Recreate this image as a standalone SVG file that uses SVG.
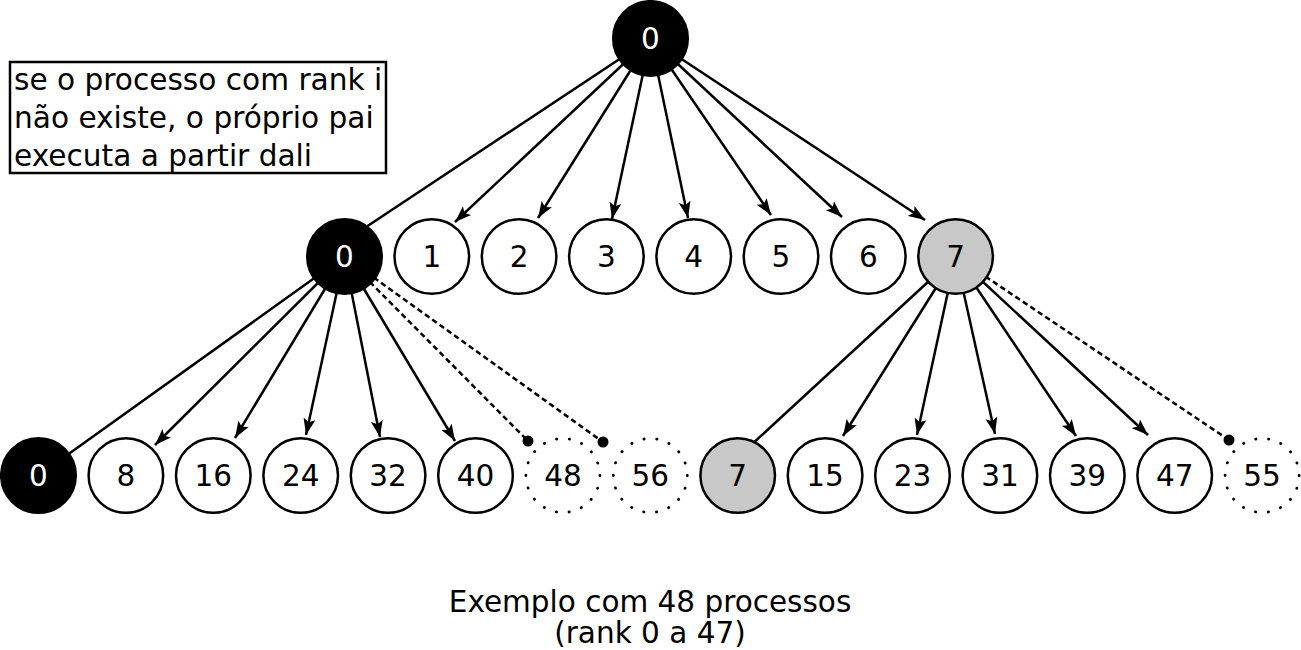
<svg xmlns="http://www.w3.org/2000/svg" width="1301" height="650" viewBox="0 0 1301 650">
<style>
.e{stroke:#000;stroke-width:2.5;fill:none}
.a{marker-end:url(#arr)}
.d{stroke-dasharray:5.5 3.5}
.n{stroke:#000;stroke-width:2.5;fill:#fff}
.blk{fill:#000}
.gry{fill:#c8c8c8}
.dot{stroke:#000;stroke-width:2.8;fill:#fff;stroke-dasharray:0.02 0.98;stroke-linecap:round}
text{font-family:"DejaVu Sans","Liberation Sans",sans-serif;font-size:29.5px;fill:#000}
.l{text-anchor:middle}
.w{fill:#fff}
.nt{font-size:29.6px}
</style>
<defs>
<marker id="arr" markerUnits="userSpaceOnUse" markerWidth="18" markerHeight="14" viewBox="0 0 18 14" refX="16.5" refY="7" orient="auto">
<path d="M0,1 L16.5,7 L0,13 L3.5,7 z" fill="#000"/>
</marker>
</defs>
<g id="connectors">
<line class="e" x1="650.5" y1="38.5" x2="351" y2="237"/>
<line class="e a" x1="650.5" y1="38.5" x2="455" y2="222"/>
<line class="e a" x1="650.5" y1="38.5" x2="538" y2="218"/>
<line class="e a" x1="650.5" y1="38.5" x2="612" y2="219"/>
<line class="e a" x1="650.5" y1="38.5" x2="688" y2="218"/>
<line class="e a" x1="650.5" y1="38.5" x2="771" y2="215"/>
<line class="e a" x1="650.5" y1="38.5" x2="842" y2="217"/>
<line class="e a" x1="650.5" y1="38.5" x2="925" y2="220"/>
<line class="e" x1="344.5" y1="256.5" x2="56" y2="463"/>
<line class="e a" x1="344.5" y1="256.5" x2="155" y2="445"/>
<line class="e a" x1="344.5" y1="256.5" x2="235" y2="438"/>
<line class="e a" x1="344.5" y1="256.5" x2="306" y2="435"/>
<line class="e a" x1="344.5" y1="256.5" x2="380" y2="437"/>
<line class="e a" x1="344.5" y1="256.5" x2="455" y2="441"/>
<line class="e d" x1="344.5" y1="256.5" x2="528" y2="441"/>
<line class="e d" x1="344.5" y1="256.5" x2="603" y2="442"/>
<circle cx="528" cy="441" r="5.5" fill="#000"/>
<circle cx="603" cy="442" r="5.5" fill="#000"/>
<line class="e" x1="955.6" y1="256.5" x2="750" y2="446"/>
<line class="e a" x1="955.6" y1="256.5" x2="843" y2="436"/>
<line class="e a" x1="955.6" y1="256.5" x2="917" y2="435"/>
<line class="e a" x1="955.6" y1="256.5" x2="995" y2="434"/>
<line class="e a" x1="955.6" y1="256.5" x2="1076" y2="436"/>
<line class="e a" x1="955.6" y1="256.5" x2="1148" y2="435"/>
<line class="e d" x1="955.6" y1="256.5" x2="1229" y2="440"/>
<circle cx="1229" cy="440" r="5.5" fill="#000"/>
</g>
<g id="note">
<rect x="10" y="62" width="376" height="111" fill="#fff" stroke="#000" stroke-width="2.5"/>
<text class="nt" x="14" y="90">se o processo com rank i</text>
<text class="nt" x="14" y="128">não existe, o próprio pai</text>
<text class="nt" x="14" y="166">executa a partir dali</text>
</g>
<g id="top0"><circle class="n blk" cx="650.5" cy="38.5" r="37.3"/><text class="l w" x="650.5" y="49">0</text></g>
<g id="m0"><circle class="n blk" cx="344.5" cy="256.5" r="37.3"/><text class="l w" x="344.5" y="267">0</text></g>
<g id="m1"><circle class="n" cx="431.8" cy="256.5" r="37.3"/><text class="l" x="431.8" y="267">1</text></g>
<g id="m2"><circle class="n" cx="519.1" cy="256.5" r="37.3"/><text class="l" x="519.1" y="267">2</text></g>
<g id="m3"><circle class="n" cx="606.4" cy="256.5" r="37.3"/><text class="l" x="606.4" y="267">3</text></g>
<g id="m4"><circle class="n" cx="693.7" cy="256.5" r="37.3"/><text class="l" x="693.7" y="267">4</text></g>
<g id="m5"><circle class="n" cx="781" cy="256.5" r="37.3"/><text class="l" x="781" y="267">5</text></g>
<g id="m6"><circle class="n" cx="868.3" cy="256.5" r="37.3"/><text class="l" x="868.3" y="267">6</text></g>
<g id="m7"><circle class="n gry" cx="955.6" cy="256.5" r="37.3"/><text class="l" x="955.6" y="267">7</text></g>
<g id="b0"><circle class="n blk" cx="38.5" cy="475.5" r="37.3"/><text class="l w" x="38.5" y="486">0</text></g>
<g id="b8"><circle class="n" cx="125.9" cy="475.5" r="37.3"/><text class="l" x="125.9" y="486">8</text></g>
<g id="b16"><circle class="n" cx="213.3" cy="475.5" r="37.3"/><text class="l" x="213.3" y="486">16</text></g>
<g id="b24"><circle class="n" cx="300.7" cy="475.5" r="37.3"/><text class="l" x="300.7" y="486">24</text></g>
<g id="b32"><circle class="n" cx="388.1" cy="475.5" r="37.3"/><text class="l" x="388.1" y="486">32</text></g>
<g id="b40"><circle class="n" cx="475.5" cy="475.5" r="37.3"/><text class="l" x="475.5" y="486">40</text></g>
<g id="b48"><circle class="dot" cx="562.9" cy="475.5" r="37" pathLength="18"/><text class="l" x="562.9" y="486">48</text></g>
<g id="b56"><circle class="dot" cx="650.3" cy="475.5" r="37" pathLength="18"/><text class="l" x="650.3" y="486">56</text></g>
<g id="b7"><circle class="n gry" cx="737.7" cy="475.5" r="37.3"/><text class="l" x="737.7" y="486">7</text></g>
<g id="b15"><circle class="n" cx="825.1" cy="475.5" r="37.3"/><text class="l" x="825.1" y="486">15</text></g>
<g id="b23"><circle class="n" cx="912.5" cy="475.5" r="37.3"/><text class="l" x="912.5" y="486">23</text></g>
<g id="b31"><circle class="n" cx="999.9" cy="475.5" r="37.3"/><text class="l" x="999.9" y="486">31</text></g>
<g id="b39"><circle class="n" cx="1087.3" cy="475.5" r="37.3"/><text class="l" x="1087.3" y="486">39</text></g>
<g id="b47"><circle class="n" cx="1174.7" cy="475.5" r="37.3"/><text class="l" x="1174.7" y="486">47</text></g>
<g id="b55"><circle class="dot" cx="1262.1" cy="475.5" r="37" pathLength="18"/><text class="l" x="1262.1" y="486">55</text></g>
<g id="caption">
<text class="l" x="650" y="612">Exemplo com 48 processos</text>
<text class="l" x="650" y="643">(rank 0 a 47)</text>
</g>
</svg>
